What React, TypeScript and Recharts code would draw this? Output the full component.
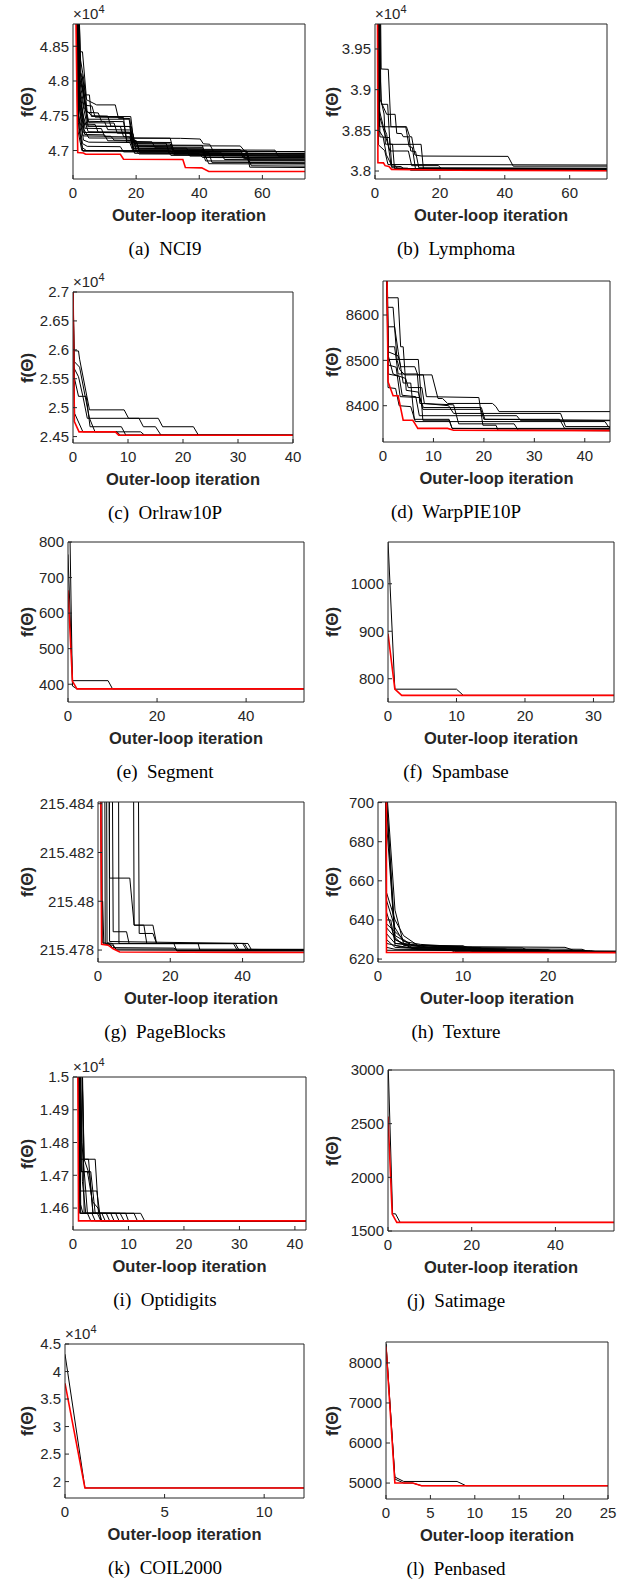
import { LineChart, Line, XAxis, YAxis } from 'recharts';

type Run = number[][];

// (a) NCI9
const nci9XTicks = [0, 20, 40, 60];
const nci9YTicks = [47000, 47500, 48000, 48500];
const nci9Red: Run = [[0.6, 50000], [1.5, 46970], [3.3, 46965], [4, 46947], [15, 46945], [16, 46875], [34.8, 46870], [35.6, 46756], [40.8, 46750], [43, 46698], [73.5, 46698]];
const nci9Black: Run[] = [
  [[0.6, 51000], [1.6, 48420], [3, 48420], [4.3, 47730], [7.5, 47656], [13.4, 47656], [14.4, 47464], [18, 47460], [19.2, 47000], [31, 46995], [32, 46940], [73.5, 46935]],
  [[0.6, 51000], [1.8, 48110], [2.8, 48100], [4, 47800], [5.2, 47800], [5.8, 47490], [18.3, 47488], [19.3, 47100], [30.8, 47095], [31.8, 46990], [53, 46985], [54.5, 46900], [73.5, 46900]],
  [[0.6, 51000], [1.9, 48130], [3, 48050], [4.5, 47450], [17.8, 47450], [18.6, 47180], [30.8, 47177], [31.8, 47000], [55, 46995], [56, 46860], [73.5, 46860]],
  [[0.6, 51000], [2, 48000], [3.2, 47900], [4.6, 47420], [10, 47415], [11, 47300], [18.2, 47295], [19, 47050], [41, 47045], [42, 46960], [73.5, 46955]],
  [[0.6, 51000], [1.7, 47950], [3, 47700], [4.5, 47350], [15, 47345], [16, 47200], [18, 47195], [19, 47020], [53, 47015], [54.5, 46880], [73.5, 46875]],
  [[0.6, 51000], [1.8, 47850], [3.2, 47500], [4.8, 47270], [18, 47265], [19, 47110], [29.5, 47105], [30.5, 46960], [73.5, 46955]],
  [[0.6, 51000], [2, 47750], [3.5, 47300], [5, 47180], [34, 47175], [40.3, 47165], [41.3, 47096], [43.3, 47090], [44.5, 46985], [73.5, 46980]],
  [[0.6, 51000], [1.9, 47650], [3.3, 47150], [5, 47120], [18, 47115], [19, 46990], [36, 46985], [37, 46920], [73.5, 46915]],
  [[0.6, 51000], [1.6, 47550], [3, 47100], [4.5, 47060], [15, 47055], [16, 46980], [43, 46975], [44, 46830], [73.5, 46825]],
  [[0.6, 51000], [1.7, 47400], [3, 47040], [4.2, 47000], [20, 46995], [21, 46950], [55, 46945], [56.5, 46780], [73.5, 46775]],
  [[0.6, 51000], [2.1, 48050], [3.4, 47780], [5, 47400], [13, 47395], [14, 47250], [19, 47245], [20, 47000], [41, 46995], [42, 46850], [73.5, 46850]],
  [[0.6, 51000], [2.2, 47980], [3.6, 47600], [6, 47500], [11, 47495], [12, 47350], [18.5, 47345], [19.5, 47060], [31, 47055], [32, 46970], [53, 46965], [54, 46890], [73.5, 46890]],
  [[0.6, 51000], [2, 47700], [3.7, 47230], [10, 47225], [11, 47140], [20, 47135], [21, 47010], [64, 47005], [65, 46920], [73.5, 46920]],
  [[0.6, 51000], [1.5, 47300], [2.8, 47000], [30, 46995], [31, 46930], [73.5, 46925]],
  [[0.6, 51000], [2.4, 48300], [3.5, 48000], [4.5, 47550], [8, 47540], [9, 47420], [16, 47415], [17, 47150], [20, 47145], [21, 46970], [47, 46965], [48, 46870], [73.5, 46865]],
  [[0.6, 51000], [2, 47880], [3.4, 47380], [7, 47375], [8, 47260], [18, 47255], [19, 47030], [41, 47025], [43, 46810], [73.5, 46805]],
  [[0.6, 51000], [2.3, 47820], [3.8, 47320], [9, 47315], [10, 47200], [19, 47195], [20, 47070], [53, 47065], [55, 46960], [73.5, 46955]],
  [[0.6, 51000], [1.8, 47500], [3.2, 47210], [12, 47205], [13, 47150], [18.5, 47145], [19.5, 46960], [40, 46955], [41, 46900], [73.5, 46895]],
  [[0.6, 51000], [2.5, 48080], [3.9, 47650], [6, 47640], [7, 47480], [16, 47475], [17, 47120], [31, 47115], [32, 46990], [55, 46985], [56, 46760], [73.5, 46755]],
  [[0.6, 51000], [2.1, 47600], [3.3, 47260], [18, 47255], [19, 47130], [25, 47125], [26, 47040], [36, 47035], [37, 46940], [73.5, 46940]],
  [[0.6, 51000], [1.9, 47300], [3.1, 46990], [73.5, 46985]],
  [[0.6, 51000], [2.2, 48150], [3.6, 47700], [4.8, 47350], [18, 47345], [19, 47080], [41, 47075], [42, 46900], [55, 46895], [56, 46820], [73.5, 46815]],
];

// (b) Lymphoma
const lymphomaXTicks = [0, 20, 40, 60];
const lymphomaYTicks = [38000, 38500, 39000, 39500];
const lymphomaRed: Run = [[0.4, 45000], [0.9, 38102], [2.6, 38100], [3.1, 38066], [4.3, 38055], [5.1, 38020], [25, 38010], [71.5, 38003]];
const lymphomaBlack: Run[] = [
  [[0.4, 45000], [1.9, 39254], [4.1, 39250], [4.9, 38545], [9.7, 38545], [10.7, 38422], [11.3, 38420], [12.3, 38197], [14.4, 38184], [41, 38180], [42.6, 38060], [71.5, 38060]],
  [[0.4, 45000], [1.6, 39188], [2, 38820], [3.9, 38820], [4.6, 38328], [14.2, 38328], [14.9, 38033], [71.5, 38030]],
  [[0.4, 45000], [1.3, 38900], [3.6, 38697], [6.2, 38697], [6.7, 38463], [8.2, 38460], [8.7, 38422], [10.5, 38420], [11, 38246], [12.5, 38240], [13.5, 38040], [71.5, 38035]],
  [[0.4, 45000], [1.4, 38545], [2, 38545], [9.5, 38540], [10.5, 38300], [11.5, 38290], [12.5, 38020], [71.5, 38015]],
  [[0.4, 45000], [1.2, 38700], [4.6, 38246], [10.3, 38246], [11.3, 38066], [19.5, 38066], [20.5, 38030], [71.5, 38025]],
  [[0.4, 45000], [1, 38800], [2.5, 38560], [3.6, 38450], [5, 38060], [8, 38055], [9, 38025], [71.5, 38020]],
  [[0.4, 45000], [1.5, 38420], [4.5, 38410], [5.2, 38040], [10, 38035], [11, 38010], [71.5, 38005]],
  [[0.4, 45000], [1.1, 38320], [3, 38250], [4, 38080], [6, 38075], [7, 38030], [71.5, 38025]],
  [[0.4, 45000], [1.2, 38500], [2.5, 38420], [3.5, 38200], [5, 38080], [71.5, 38074]],
  [[0.4, 45000], [1.8, 38880], [2.8, 38700], [3.2, 38330], [5.4, 38330], [6, 38030], [71.5, 38028]],
];

// (c) Orlraw10P
const orlXTicks = [0, 10, 20, 30, 40];
const orlYTicks = [24500, 25000, 25500, 26000, 26500, 27000];
const orlRed: Run = [[0, 27100], [0.25, 24760], [1.1, 24582], [7.7, 24582], [8.3, 24525], [40, 24523]];
const orlBlack: Run[] = [
  [[0, 27300], [0.15, 25985], [1, 25980], [1.2, 25839], [3, 24962], [9.3, 24962], [10.1, 24816], [15.5, 24816], [16.3, 24670], [21.9, 24670], [22.8, 24525], [40, 24523]],
  [[0, 27300], [0.1, 25700], [1, 25535], [1.8, 25196], [2.6, 24816], [12, 24816], [12.8, 24670], [15, 24670], [16, 24525], [40, 24523]],
  [[0, 27300], [0.2, 25535], [1, 25196], [2.4, 25196], [3.1, 24670], [8.8, 24670], [9.6, 24525], [40, 24523]],
  [[0, 27300], [0.3, 24900], [1.8, 24582], [8, 24582], [8.6, 24525], [40, 24523]],
  [[0, 27300], [0.2, 25800], [1.2, 25700], [2.2, 25200], [3, 24816], [4, 24582], [12.3, 24582], [13, 24525], [40, 24523]],
];

// (d) WarpPIE10P
const warpXTicks = [0, 10, 20, 30, 40];
const warpYTicks = [8400, 8500, 8600];
const warpRed: Run = [[0.7, 8800], [1, 8453], [2, 8422], [3, 8422], [4, 8368], [5.9, 8368], [6.3, 8361], [6.9, 8350], [12.8, 8350], [14, 8346], [45, 8345]];
const warpBlack: Run[] = [
  [[0.7, 8800], [0.9, 8638], [3, 8638], [3.5, 8530], [4, 8530], [4.6, 8434], [7, 8430], [7.9, 8392], [19.4, 8392], [20, 8370], [45, 8368]],
  [[0.7, 8800], [0.9, 8617], [2, 8617], [2.8, 8500], [3.3, 8480], [4.3, 8468], [9.7, 8468], [10.9, 8416], [11.8, 8416], [12.8, 8405], [21.7, 8405], [22.4, 8398], [23, 8387], [45, 8387]],
  [[0.7, 8800], [0.9, 8574], [2.3, 8574], [3, 8520], [4, 8450], [5.5, 8450], [6.2, 8370], [13.1, 8370], [13.7, 8350], [45, 8348]],
  [[0.7, 8800], [0.9, 8530], [2.3, 8530], [3, 8470], [6.8, 8470], [7.3, 8405], [14, 8402], [15, 8360], [26, 8360], [26.8, 8346], [45, 8345]],
  [[0.7, 8800], [1, 8519], [3, 8510], [3.5, 8486], [6.3, 8486], [6.9, 8468], [8, 8468], [8.6, 8420], [19, 8418], [19.8, 8357], [22.4, 8357], [22.8, 8346], [45, 8345]],
  [[0.7, 8800], [1.1, 8502], [7, 8502], [7.9, 8368], [13.1, 8368], [13.7, 8350], [45, 8350]],
  [[0.7, 8800], [1, 8512], [2, 8470], [4.5, 8460], [5, 8440], [7.7, 8440], [8.2, 8405], [13, 8400], [14, 8383], [35.2, 8383], [36.2, 8354], [45, 8354]],
  [[0.7, 8800], [1, 8470], [3.2, 8465], [3.8, 8423], [6.5, 8420], [7.2, 8378], [26.5, 8378], [27.3, 8367], [45, 8367]],
  [[0.7, 8800], [1, 8440], [2.5, 8438], [3.2, 8400], [5.5, 8398], [6.4, 8365], [44, 8365], [44.8, 8352], [45, 8352]],
  [[0.7, 8800], [1, 8490], [2.6, 8485], [3.4, 8420], [7.3, 8418], [8, 8396], [19.5, 8396], [20.2, 8370], [35, 8370], [36, 8350], [45, 8350]],
];

// (e) Segment
const segmentXTicks = [0, 20, 40];
const segmentYTicks = [400, 500, 600, 700, 800];
const segmentRed: Run = [[0, 664], [1, 409], [2, 387], [53, 387]];
const segmentBlack: Run[] = [
  [[0, 765], [1, 410], [9, 410], [10, 387], [53, 387]],
  [[0, 1150], [1, 395], [2, 387], [53, 387]],
];

// (f) Spambase
const spamXTicks = [0, 10, 20, 30];
const spamYTicks = [800, 900, 1000];
const spamRed: Run = [[0, 895], [1, 778], [2, 765], [33, 765]];
const spamBlack: Run[] = [
  [[0, 1090], [1, 778], [10, 778], [11, 765], [33, 765]],
];

// (g) PageBlocks
const pageXTicks = [0, 20, 40];
const pageYTicks = [215.478, 215.48, 215.482, 215.484];
const pageRed: Run = [[0.6, 215.49], [1, 215.47824], [2.8, 215.4782], [4.2, 215.47805], [6, 215.47792], [57, 215.4779]];
const pageBlack: Run[] = [
  [[11, 215.49], [11.4, 215.47868], [15.2, 215.47868], [16.2, 215.47827], [27.7, 215.47827], [28.2, 215.478], [57, 215.478]],
  [[9.7, 215.49], [10, 215.47902], [12.7, 215.47902], [13.5, 215.47827], [21, 215.47827], [21.8, 215.47796], [57, 215.47796]],
  [[3, 215.49], [3.2, 215.48095], [8.8, 215.48095], [10, 215.47902], [15.2, 215.47902], [16.2, 215.47827], [41.5, 215.47827], [42.5, 215.478], [57, 215.478]],
  [[0.5, 215.49], [0.9, 215.48], [1.3, 215.48], [1.6, 215.47824], [4, 215.4782], [5, 215.47804], [57, 215.47803]],
  [[3.8, 215.49], [4.2, 215.47875], [7.9, 215.47875], [8.6, 215.47827], [38, 215.47827], [39, 215.478], [57, 215.478]],
  [[5.6, 215.49], [5.8, 215.47827], [40, 215.47827], [41, 215.47803], [57, 215.478]],
  [[2.3, 215.49], [2.5, 215.4783], [4, 215.47827], [5, 215.478], [57, 215.47798]],
  [[1, 215.49], [1.2, 215.4783], [3, 215.47827], [4, 215.4781], [21, 215.47808], [22, 215.47798], [57, 215.47798]],
  [[3, 215.49], [3.2, 215.47835], [40.5, 215.47827], [41.5, 215.47802], [57, 215.47801]],
  [[1.8, 215.49], [2, 215.47826], [37.5, 215.47826], [38.5, 215.478], [57, 215.47799]],
];

// (h) Texture
const textureXTicks = [0, 10, 20];
const textureYTicks = [620, 640, 660, 680, 700];
const textureRed: Run = [[0.98, 720], [1, 623.4], [28, 623.3]];
const textureBlack: Run[] = [
  [[0.9, 900], [1, 700], [2, 627], [5, 625], [13, 624.8], [14, 623.6], [28, 623.4]],
  [[0.9, 900], [1, 690], [2, 630], [4, 626], [10, 625.5], [11, 624], [28, 623.5]],
  [[0.9, 900], [1, 654], [2, 640], [3, 632], [5, 626], [15, 625.2], [16, 623.6], [28, 623.4]],
  [[0.9, 900], [1, 644], [2, 630], [4, 625.5], [24, 625], [25, 623.5], [28, 623.4]],
  [[0.9, 900], [1, 640], [1.5, 640], [2, 628], [7, 626.5], [8, 624.5], [25, 624.3], [26, 623.5], [28, 623.5]],
  [[0.9, 900], [1, 636], [2, 631], [3, 627], [6, 626], [12, 625.8], [13, 624], [28, 623.6]],
  [[0.9, 900], [1, 633], [2, 628], [4, 627], [9, 626.3], [10, 624.5], [24, 624.4], [25, 623.5], [28, 623.5]],
  [[0.9, 900], [1, 630], [2, 626], [6, 625], [20, 624.8], [21, 623.6], [28, 623.5]],
  [[0.9, 900], [1, 628], [3, 626], [8, 625.3], [9, 623.8], [28, 623.6]],
  [[0.9, 900], [1, 626], [2, 625], [14, 624.5], [15, 623.5], [28, 623.4]],
  [[0.9, 900], [1, 708], [2, 645], [3, 628], [6, 626], [17, 625.7], [18, 623.7], [28, 623.5]],
  [[0.9, 900], [1, 650], [2, 636], [3, 629], [5, 627.5], [11, 626], [12, 624.2], [28, 624]],
  [[0.9, 900], [1, 624.5], [28, 624]],
  [[0.9, 900], [1, 703], [2, 632], [4, 627], [7, 626.4], [22, 626], [23, 624.5], [25, 623.6], [28, 623.5]],
  [[0.9, 900], [1, 638], [2, 634], [3, 630], [4, 627], [10, 626.8], [11, 625], [19, 624.8], [20, 623.7], [28, 623.6]],
];

// (i) Optidigits
const optiXTicks = [0, 10, 20, 30, 40];
const optiYTicks = [14600, 14700, 14800, 14900, 15000];
const optiRed: Run = [[0, 18000], [1, 14561], [42, 14561]];
const optiBlack: Run[] = [
  [[1, 15200], [1.3, 14749], [4, 14749], [4.6, 14584], [12.2, 14584], [12.9, 14561], [42, 14561]],
  [[1, 15300], [1.5, 14711], [3.2, 14711], [4, 14584], [9.5, 14584], [10, 14561], [42, 14561]],
  [[1, 15100], [1.1, 14652], [4.3, 14652], [5, 14561], [42, 14561]],
  [[1.5, 15200], [2, 14749], [3, 14700], [3.6, 14584], [8.5, 14584], [9.2, 14561], [42, 14561]],
  [[1, 15500], [1.6, 14800], [2.3, 14652], [2.6, 14584], [7.7, 14584], [8.3, 14561], [42, 14561]],
  [[1, 15400], [1.4, 14584], [6.8, 14584], [7.4, 14561], [42, 14561]],
  [[1, 15300], [1.7, 14680], [2.3, 14584], [6, 14584], [6.6, 14561], [42, 14561]],
  [[1, 15200], [1.2, 14620], [1.8, 14584], [5.2, 14584], [5.8, 14561], [42, 14561]],
  [[1.6, 15050], [2, 14749], [2.8, 14749], [3.6, 14584], [4.4, 14584], [5, 14561], [42, 14561]],
  [[1, 15100], [1.2, 14584], [3.4, 14584], [4, 14561], [42, 14561]],
  [[1, 15200], [1.3, 14584], [2.6, 14584], [3.2, 14561], [42, 14561]],
  [[1, 15150], [1.5, 14711], [2.6, 14711], [3.5, 14620], [4.5, 14600], [5.2, 14561], [42, 14561]],
  [[1.3, 15500], [2, 14584], [11, 14584], [11.6, 14561], [42, 14561]],
];

// (j) Satimage
const satXTicks = [0, 20, 40];
const satYTicks = [1500, 2000, 2500, 3000];
const satRed: Run = [[0, 2567], [1, 1657], [2.1, 1580], [54, 1580]];
const satBlack: Run[] = [
  [[0, 3100], [1.1, 1660], [1.8, 1660], [2.9, 1580], [54, 1580]],
];

// (k) COIL2000
const coilXTicks = [0, 5, 10];
const coilYTicks = [20000, 25000, 30000, 35000, 40000, 45000];
const coilRed: Run = [[0, 37860], [1, 18850], [12, 18850]];
const coilBlack: Run[] = [
  [[0, 43150], [1, 18850], [12, 18850]],
];

// (l) Penbased
const penXTicks = [0, 5, 10, 15, 20, 25];
const penYTicks = [5000, 6000, 7000, 8000];
const penRed: Run = [[0, 8410], [1, 5000], [3, 5000], [4, 4934], [25, 4934]];
const penBlack: Run[] = [
  [[0, 8480], [1, 5150], [2, 5040], [8, 5040], [9, 4934], [25, 4934]],
  [[0, 8480], [1, 5100], [2, 5000], [3, 5000], [4, 4934], [25, 4934]],
];

type PanelDef = {
  id: string;
  name: string;
  col: number;
  box: number[];
  xMax: number;
  yDomain: number[];
  xTicks: number[];
  yTicks: number[];
  scale: number;
  black: Run[];
  red: Run;
};

const panels: PanelDef[] = [
  { id: 'a', name: 'NCI9', col: 0, box: [73, 24, 232, 155], xMax: 73.5, yDomain: [46590, 48820], xTicks: nci9XTicks, yTicks: nci9YTicks, scale: 1e4, black: nci9Black, red: nci9Red },
  { id: 'b', name: 'Lymphoma', col: 1, box: [375, 24, 232, 155], xMax: 71.5, yDomain: [37902, 39807], xTicks: lymphomaXTicks, yTicks: lymphomaYTicks, scale: 1e4, black: lymphomaBlack, red: lymphomaRed },
  { id: 'c', name: 'Orlraw10P', col: 0, box: [73, 292, 220, 151], xMax: 40, yDomain: [24389, 27000], xTicks: orlXTicks, yTicks: orlYTicks, scale: 1e4, black: orlBlack, red: orlRed },
  { id: 'd', name: 'WarpPIE10P', col: 1, box: [383, 281, 227, 161], xMax: 45, yDomain: [8320, 8675], xTicks: warpXTicks, yTicks: warpYTicks, scale: 1, black: warpBlack, red: warpRed },
  { id: 'e', name: 'Segment', col: 0, box: [68, 542, 236, 160], xMax: 53, yDomain: [350, 800], xTicks: segmentXTicks, yTicks: segmentYTicks, scale: 1, black: segmentBlack, red: segmentRed },
  { id: 'f', name: 'Spambase', col: 1, box: [388, 542, 226, 160], xMax: 33, yDomain: [751, 1088], xTicks: spamXTicks, yTicks: spamYTicks, scale: 1, black: spamBlack, red: spamRed },
  { id: 'g', name: 'PageBlocks', col: 0, box: [98, 802, 206, 160], xMax: 57, yDomain: [215.47751, 215.48407], xTicks: pageXTicks, yTicks: pageYTicks, scale: 1, black: pageBlack, red: pageRed },
  { id: 'h', name: 'Texture', col: 1, box: [378, 802, 238, 160], xMax: 28, yDomain: [618.5, 700.3], xTicks: textureXTicks, yTicks: textureYTicks, scale: 1, black: textureBlack, red: textureRed },
  { id: 'i', name: 'Optidigits', col: 0, box: [73, 1077, 233, 153], xMax: 42, yDomain: [14533, 15000], xTicks: optiXTicks, yTicks: optiYTicks, scale: 1e4, black: optiBlack, red: optiRed },
  { id: 'j', name: 'Satimage', col: 1, box: [388, 1070, 226, 161], xMax: 54, yDomain: [1500, 3000], xTicks: satXTicks, yTicks: satYTicks, scale: 1, black: satBlack, red: satRed },
  { id: 'k', name: 'COIL2000', col: 0, box: [65, 1344, 239, 154], xMax: 12, yDomain: [17020, 45000], xTicks: coilXTicks, yTicks: coilYTicks, scale: 1e4, black: coilBlack, red: coilRed },
  { id: 'l', name: 'Penbased', col: 1, box: [386, 1342, 222, 157], xMax: 25, yDomain: [4602, 8522], xTicks: penXTicks, yTicks: penYTicks, scale: 1, black: penBlack, red: penRed },
];

const AXIS = '#262626';
const SANS = '"Liberation Sans", Arial, Helvetica, sans-serif';
const SERIF = '"Liberation Serif", "Times New Roman", serif';
const ML = 70;
const MT = 10;
const MR = 12;
const MB = 32;
const YLABEL_X = [27.5, 333];
const CAPTION_X = [165, 456];

const toPoints = (run: Run) => run.map(([x, y]) => ({ x, y }));
const fmt = (v: number, scale: number) => String(Math.round((v / scale) * 1e6) / 1e6);

function Panel({ p }: { p: PanelDef }) {
  const [bx, by, bw, bh] = p.box;
  const tickStyle = { fill: AXIS, fontSize: 15, fontFamily: SANS };
  return (
    <>
      <div style={{ position: 'absolute', left: bx - ML, top: by - MT }}>
        {/* the top and right axes are 1px wide so Recharts draws them: they close the box */}
        <LineChart width={bw + ML + MR} height={bh + MT + MB} margin={{ top: MT - 1, right: MR - 1, left: 0, bottom: 0 }}>
          <XAxis xAxisId="b" type="number" dataKey="x" domain={[0, p.xMax]} ticks={p.xTicks} interval={0}
            allowDataOverflow height={MB} stroke={AXIS} tickSize={-4} tickMargin={12} tick={tickStyle} />
          <XAxis xAxisId="t" orientation="top" type="number" dataKey="x" domain={[0, p.xMax]} ticks={p.xTicks}
            interval={0} allowDataOverflow height={1} stroke={AXIS} tickSize={-4} tick={false} />
          <YAxis yAxisId="l" type="number" domain={p.yDomain} ticks={p.yTicks} interval={0} allowDataOverflow
            width={ML} stroke={AXIS} tickSize={-4} tickMargin={8} tick={tickStyle}
            tickFormatter={(v: number) => fmt(v, p.scale)} />
          <YAxis yAxisId="r" orientation="right" type="number" domain={p.yDomain} ticks={p.yTicks} interval={0}
            allowDataOverflow width={1} stroke={AXIS} tickSize={-4} tick={false} />
          {p.black.map((run, i) => (
            <Line key={`k${i}`} xAxisId="b" yAxisId="l" data={toPoints(run)} dataKey="y" type="linear"
              stroke="#000" strokeWidth={1} dot={false} activeDot={false} isAnimationActive={false} />
          ))}
          <Line key="red" xAxisId="b" yAxisId="l" data={toPoints(p.red)} dataKey="y" type="linear"
            stroke="#ff0000" strokeWidth={1.6} dot={false} activeDot={false} isAnimationActive={false} />
        </LineChart>
      </div>
      {p.scale !== 1 && (
        <div style={{ position: 'absolute', left: bx, top: by - 18, fontFamily: SANS, fontSize: 15, lineHeight: '15px', color: AXIS, whiteSpace: 'nowrap' }}>
          ×10<span style={{ fontSize: 11, position: 'relative', top: -6 }}>4</span>
        </div>
      )}
      <div style={{ position: 'absolute', left: YLABEL_X[p.col], top: by + bh / 2, transform: 'translate(-50%, -50%) rotate(-90deg)', fontFamily: SANS, fontWeight: 'bold', fontSize: 17, color: AXIS, whiteSpace: 'nowrap' }}>
        f(Θ)
      </div>
      <div style={{ position: 'absolute', left: bx + bw / 2, top: by + bh + 36, transform: 'translate(-50%, -50%)', fontFamily: SANS, fontWeight: 'bold', fontSize: 16.5, color: AXIS, whiteSpace: 'nowrap' }}>
        Outer-loop iteration
      </div>
      <div style={{ position: 'absolute', left: CAPTION_X[p.col], top: by + bh + 70, transform: 'translate(-50%, -50%)', fontFamily: SERIF, fontSize: 19, color: '#000', whiteSpace: 'pre' }}>
        {`(${p.id})  ${p.name}`}
      </div>
    </>
  );
}

export default function App() {
  return (
    <div style={{ position: 'relative', width: 629, height: 1579, background: '#fff', overflow: 'hidden' }}>
      <style>{'body{margin:0}'}</style>
      {panels.map((p) => (
        <Panel key={p.id} p={p} />
      ))}
    </div>
  );
}
